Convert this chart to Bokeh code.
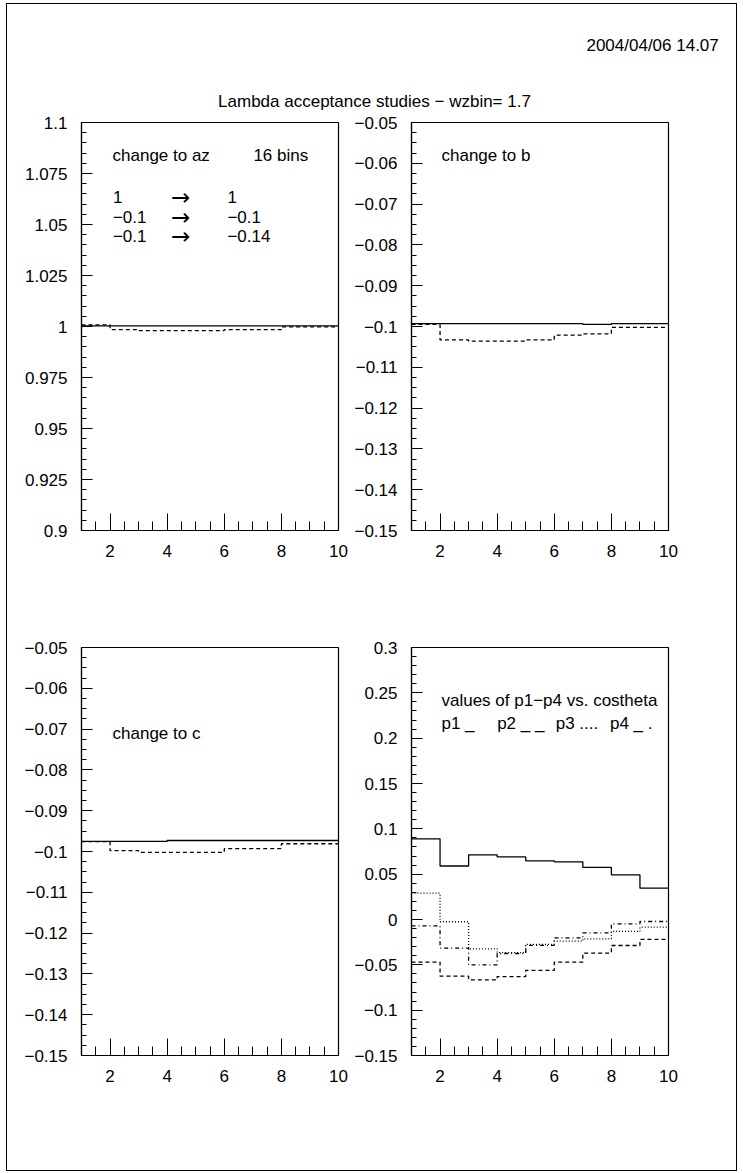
from bokeh.plotting import figure
from bokeh.models import Range1d, FixedTicker, CustomJSTickFormatter, Label
from bokeh.layouts import column, row
from bokeh.embed import file_html
from bokeh.resources import INLINE

FONT = "Liberation Sans"
FS = "17px"

# ---------------- data ----------------
bin_edges = [1, 2, 3, 4, 5, 6, 7, 8, 9, 10]

az_before = [1.0003, 1.0003, 1.0003, 1.0003, 1.0003, 1.0003, 1.0003, 1.0003, 1.0003]
az_after = [1.0008, 0.9985, 0.9980, 0.9980, 0.9980, 0.9985, 0.9985, 0.9998, 0.9998]

b_before = [-0.0993, -0.0993, -0.0993, -0.0993, -0.0993, -0.0993, -0.0995, -0.0993, -0.0993]
b_after = [-0.0995, -0.1033, -0.1036, -0.1036, -0.1033, -0.1021, -0.1018, -0.1002, -0.1002]

c_before = [-0.0975, -0.0975, -0.0975, -0.0973, -0.0973, -0.0973, -0.0973, -0.0973, -0.0973]
c_after = [-0.0976, -0.0998, -0.1002, -0.1002, -0.1002, -0.0993, -0.0993, -0.0981, -0.0981]

p1 = [0.0890, 0.0590, 0.0713, 0.0690, 0.0647, 0.0636, 0.0574, 0.0493, 0.0346]
p2 = [-0.0470, -0.0625, -0.0665, -0.0629, -0.0562, -0.0471, -0.0371, -0.0287, -0.0220]
p3 = [0.0290, -0.0025, -0.0323, -0.0365, -0.0275, -0.0239, -0.0213, -0.0132, -0.0085]
p4 = [-0.0070, -0.0316, -0.0500, -0.0375, -0.0285, -0.0202, -0.0147, -0.0048, -0.0022]

x_major = [2, 4, 6, 8, 10]
x_minor = [1.5, 2, 2.5, 3, 3.5, 4, 4.5, 5, 5.5, 6, 6.5, 7, 7.5, 8, 8.5, 9, 9.5, 10]

az_range = (0.9, 1.1)
az_major = [0.9, 0.925, 0.95, 0.975, 1.0, 1.025, 1.05, 1.075, 1.1]
bc_range = (-0.15, -0.05)
bc_major = [-0.15, -0.14, -0.13, -0.12, -0.11, -0.10, -0.09, -0.08, -0.07, -0.06, -0.05]
p_range = (-0.15, 0.3)
p_major = [-0.15, -0.1, -0.05, 0.0, 0.05, 0.1, 0.15, 0.2, 0.25, 0.3]

title_text = "Lambda acceptance studies \u2212 wzbin= 1.7"
date_text = "2004/04/06  14.07"


def minor_list(lo, hi, step):
    n = int(round((hi - lo) / step))
    return [round(lo + i * step, 5) for i in range(n + 1)]


def closed(vals):
    return list(vals) + [vals[-1]]


fmt = CustomJSTickFormatter(code="""
    const s = String(parseFloat(tick.toFixed(4)));
    return s.replace('-', '\u2212');
""")


def panel(width, height, mbl, mbr, mbt, mbb, yr, ymajor, yminor):
    p = figure(width=width, height=height, x_range=Range1d(1, 10),
               y_range=Range1d(*yr), output_backend="svg",
               toolbar_location=None, min_border_left=mbl,
               min_border_right=mbr, min_border_top=mbt,
               min_border_bottom=mbb)
    p.xgrid.visible = False
    p.ygrid.visible = False
    p.outline_line_color = "black"
    p.outline_line_width = 1.2
    p.background_fill_color = "white"
    p.border_fill_color = "white"
    xa = p.xaxis[0]
    ya = p.yaxis[0]
    xa.ticker = FixedTicker(ticks=x_major, minor_ticks=x_minor)
    ya.ticker = FixedTicker(ticks=ymajor, minor_ticks=yminor)
    for ax in (xa, ya):
        ax.formatter = fmt
        ax.axis_line_color = "black"
        ax.axis_line_width = 1.2
        ax.major_tick_line_color = "black"
        ax.minor_tick_line_color = "black"
        ax.major_tick_out = 0
        ax.minor_tick_out = 0
        ax.major_label_text_font = FONT
        ax.major_label_text_font_size = FS
        ax.major_label_text_color = "black"
        ax.major_label_standoff = 14
    xa.major_tick_in = 17
    xa.minor_tick_in = 9
    ya.major_tick_in = 11
    ya.minor_tick_in = 5
    return p


def add_text(p, x, y, txt, align="left", size=FS, font=FONT):
    p.add_layout(Label(x=x, y=y, text=txt, text_font=font, text_font_size=size,
                       text_color="black", text_align=align,
                       text_baseline="middle"))


def hist(p, vals, dash="solid"):
    p.step(x=bin_edges, y=closed(vals), mode="after", line_color="black",
           line_width=1.3, line_dash=dash)


# ---------------- header ----------------
W = 729
HH = 110
header = figure(width=W, height=HH, x_range=Range1d(0, W), y_range=Range1d(HH, 0),
                x_axis_type=None, y_axis_type=None, output_backend="svg",
                toolbar_location=None, min_border=0)
header.outline_line_color = None
header.xgrid.visible = False
header.ygrid.visible = False
header.add_layout(Label(x=716, y=41, text=date_text, text_font=FONT, text_font_size=FS,
                        text_color="black", text_align="right", text_baseline="middle"))
header.add_layout(Label(x=367, y=97, text=title_text, text_font=FONT, text_font_size=FS,
                        text_color="black", text_align="center", text_baseline="middle"))

# ---------------- panels ----------------
az_minor = minor_list(0.9, 1.1, 0.005)
bc_minor = minor_list(-0.15, -0.05, 0.0025)
p_minor = minor_list(-0.15, 0.3, 0.01)

tl = panel(341, 521, 74, 10, 8, 105, az_range, az_major, az_minor)
hist(tl, az_before)
hist(tl, az_after, "4 3")
add_text(tl, 2.086, 1.0838, "change to az")
add_text(tl, 7.02, 1.0838, "16  bins")
rows_y = [1.0637, 1.0539, 1.0446]
lhs = ["1", "\u22120.1", "\u22120.1"]
rhs = ["1", "\u22120.1", "\u22120.14"]
for yy, a, b in zip(rows_y, lhs, rhs):
    add_text(tl, 2.10, yy, a)
    add_text(tl, 4.47, yy, "\u2192", "center", "23px", "DejaVu Sans")
    add_text(tl, 6.11, yy, b)

tr = panel(388, 521, 63, 68, 8, 105, bc_range, bc_major, bc_minor)
hist(tr, b_before)
hist(tr, b_after, "4 3")
add_text(tr, 2.05, -0.0581, "change to b")

bl = panel(341, 535, 74, 10, 12, 115, bc_range, bc_major, bc_minor)
hist(bl, c_before)
hist(bl, c_after, "4 3")
add_text(bl, 2.086, -0.0711, "change to c")

br = panel(388, 535, 63, 68, 12, 115, p_range, p_major, p_minor)
hist(br, p1)
hist(br, p2, "4 3")
hist(br, p3, "1 2")
hist(br, p4, "4 3 1 3")
add_text(br, 2.05, 0.2415, "values of p1\u2212p4 vs. costheta")
add_text(br, 2.05, 0.2162, "p1  _")
add_text(br, 4.0, 0.2162, "p2  _ _")
add_text(br, 6.05, 0.2162, "p3  ....")
add_text(br, 7.95, 0.2162, "p4  _ .")

layout = column(header, row(tl, tr), row(bl, br), margin=(4, 0, 0, 7),
                styles={"outline": "1px solid black"})

open("out.html", "w").write(file_html(layout, INLINE))
